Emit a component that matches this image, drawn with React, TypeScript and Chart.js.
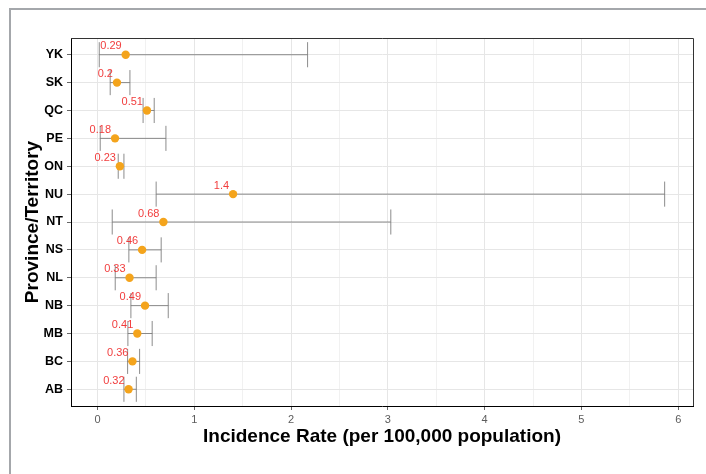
import React, { useEffect, useRef } from "react";
import { Chart, registerables } from "chart.js";

Chart.register(...registerables);

// bottom-to-top order
const categories = ["AB", "BC", "MB", "NB", "NL", "NS", "NT", "NU", "ON", "PE", "QC", "SK", "YK"];
const rates = [0.32, 0.36, 0.41, 0.49, 0.33, 0.46, 0.68, 1.4, 0.23, 0.18, 0.51, 0.2, 0.29];
const lowerCI = [0.272, 0.31, 0.313, 0.344, 0.182, 0.323, 0.151, 0.605, 0.213, 0.027, 0.47, 0.13, 0.017];
const upperCI = [0.4, 0.434, 0.564, 0.73, 0.605, 0.657, 3.03, 5.86, 0.272, 0.706, 0.585, 0.334, 2.17];
const xTicks = [0, 0.5, 1, 1.5, 2, 2.5, 3, 3.5, 4, 4.5, 5, 5.5, 6];

const FONT = "'Liberation Sans', Arial, sans-serif";

const errorBarPlugin = {
  id: "errorBars",
  beforeDatasetsDraw(chart: any) {
    const { ctx, scales } = chart;
    const xs = scales.x;
    const ys = scales.y;
    ctx.save();
    ctx.strokeStyle = "rgba(120,120,120,0.85)";
    ctx.lineWidth = 1;
    categories.forEach((_, i) => {
      const y = ys.getPixelForValue(i + 1);
      const yTop = ys.getPixelForValue(i + 1 + 0.45);
      const yBot = ys.getPixelForValue(i + 1 - 0.45);
      const xl = xs.getPixelForValue(lowerCI[i]);
      const xu = xs.getPixelForValue(upperCI[i]);
      ctx.beginPath();
      ctx.moveTo(xl, y);
      ctx.lineTo(xu, y);
      ctx.moveTo(xl, yTop);
      ctx.lineTo(xl, yBot);
      ctx.moveTo(xu, yTop);
      ctx.lineTo(xu, yBot);
      ctx.stroke();
    });
    ctx.restore();
  },
  afterDatasetsDraw(chart: any) {
    const { ctx, scales, chartArea } = chart;
    const xs = scales.x;
    const ys = scales.y;
    ctx.save();
    ctx.fillStyle = "rgba(240,40,40,0.9)";
    ctx.font = `11px ${FONT}`;
    ctx.textAlign = "right";
    ctx.textBaseline = "alphabetic";
    categories.forEach((_, i) => {
      const x = xs.getPixelForValue(rates[i]);
      const y = ys.getPixelForValue(i + 1);
      ctx.fillText(String(rates[i]), x - 4, y - 5.5);
    });
    // panel border top/right
    ctx.strokeStyle = "#333333";
    ctx.lineWidth = 1;
    ctx.beginPath();
    ctx.moveTo(chartArea.left, chartArea.top + 0.5);
    ctx.lineTo(chartArea.right + 0.5, chartArea.top + 0.5);
    ctx.lineTo(chartArea.right + 0.5, chartArea.bottom);
    ctx.stroke();
    ctx.restore();
  },
};

export default function App() {
  const ref = useRef<HTMLCanvasElement | null>(null);

  useEffect(() => {
    if (!ref.current) return;
    const chart = new Chart(ref.current, {
      type: "scatter",
      data: {
        datasets: [
          {
            data: categories.map((_, i) => ({ x: rates[i], y: i + 1 })),
            backgroundColor: "#f4a41c",
            borderWidth: 0,
            pointRadius: 4.2,
            pointHoverRadius: 4.2,
          },
        ],
      },
      options: {
        animation: false,
        responsive: false,
        events: [],
        layout: { padding: { top: 38, right: 13, left: 0, bottom: 0 } },
        plugins: { legend: { display: false }, tooltip: { enabled: false } },
        scales: {
          x: {
            type: "linear",
            min: -0.275,
            max: 6.153,
            afterBuildTicks: (axis: any) => {
              axis.ticks = xTicks.map((v) => ({ value: v }));
            },
            afterFit: (axis: any) => {
              axis.height = 68;
            },
            ticks: {
              autoSkip: false,
              maxRotation: 0,
              padding: 3,
              color: "#5c5c5c",
              font: { family: FONT, size: 11 },
              callback: (v: any) => (Number(v) % 1 === 0 ? String(v) : ""),
            },
            grid: {
              color: (c: any) => (c.tick && c.tick.value % 1 === 0 ? "#e6e6e6" : "#f1f1f1"),
              tickColor: (c: any) => (c.tick && c.tick.value % 1 === 0 ? "#666666" : "rgba(0,0,0,0)"),
              tickLength: 4,
              lineWidth: 1,
            },
            border: { display: true, color: "#000000", width: 1 },
            title: {
              display: true,
              text: "Incidence Rate (per 100,000 population)",
              color: "#000000",
              font: { family: FONT, size: 19, weight: "bold" },
              padding: { top: 0, bottom: 26 },
            },
          },
          y: {
            type: "linear",
            min: 0.4,
            max: 13.6,
            afterBuildTicks: (axis: any) => {
              axis.ticks = categories.map((_, i) => ({ value: i + 1 }));
            },
            afterFit: (axis: any) => {
              axis.width = 71;
            },
            ticks: {
              autoSkip: false,
              padding: 4,
              color: "#000000",
              font: { family: FONT, size: 12.5, weight: "bold" },
              callback: (v: any) => categories[Math.round(Number(v)) - 1] ?? "",
            },
            grid: {
              color: "#e6e6e6",
              tickColor: "#666666",
              tickLength: 4,
              lineWidth: 1,
            },
            border: { display: true, color: "#000000", width: 1 },
            title: {
              display: true,
              text: "Province/Territory",
              color: "#000000",
              font: { family: FONT, size: 19, weight: "bold" },
              padding: { top: 21.5, bottom: 0 },
            },
          },
        },
      },
      plugins: [errorBarPlugin],
    });
    return () => chart.destroy();
  }, []);

  return (
    <div style={{ position: "fixed", left: 0, top: 0, width: 706, height: 474, overflow: "hidden", background: "#ffffff" }}>
      <div
        style={{
          position: "absolute",
          left: 9,
          top: 8,
          width: 800,
          height: 600,
          borderTop: "2px solid #a4a7ab",
          borderLeft: "2px solid #a4a7ab",
        }}
      />
      <canvas ref={ref} width={706} height={474} style={{ position: "absolute", left: 0, top: 0, width: 706, height: 474 }} />
    </div>
  );
}
